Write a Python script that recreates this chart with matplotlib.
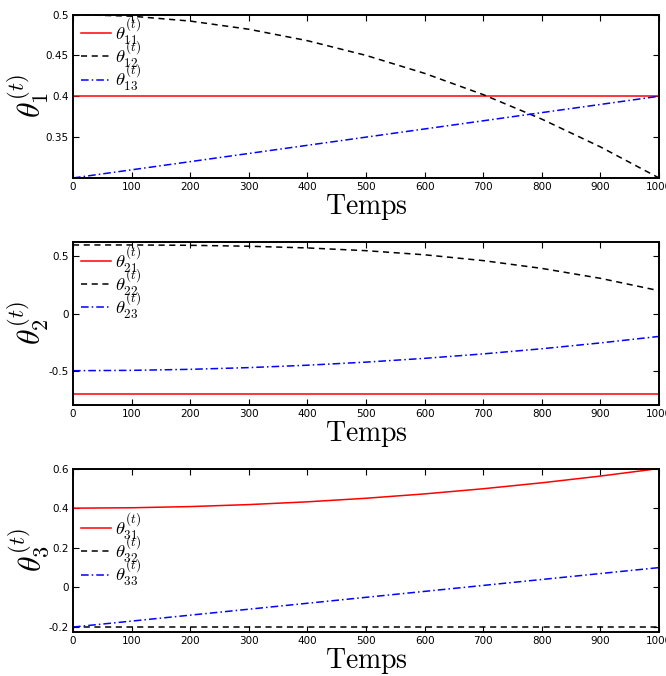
import matplotlib
matplotlib.use("Agg")
import matplotlib.pyplot as plt

plt.rcParams['mathtext.fontset'] = 'cm'

t = [0, 100, 200, 300, 400, 500, 600, 700, 800, 900, 1000]

# panel 1
th11 = [0.4] * 11
th12 = [0.5, 0.498, 0.492, 0.482, 0.468, 0.45, 0.428, 0.402, 0.372, 0.338, 0.3]
th13 = [0.3, 0.31, 0.32, 0.33, 0.34, 0.35, 0.36, 0.37, 0.38, 0.39, 0.4]

# panel 2
th21 = [-0.7] * 11
th22 = [0.6, 0.6, 0.597, 0.589, 0.574, 0.55, 0.514, 0.463, 0.395, 0.308, 0.2]
th23 = [-0.5, -0.497, -0.488, -0.473, -0.452, -0.425, -0.392, -0.353, -0.308, -0.257, -0.2]

# panel 3
th31 = [0.4, 0.402, 0.408, 0.418, 0.432, 0.45, 0.472, 0.498, 0.528, 0.562, 0.6]
th32 = [-0.2] * 11
th33 = [-0.2, -0.17, -0.14, -0.11, -0.08, -0.05, -0.02, 0.01, 0.04, 0.07, 0.1]

panels = [
    (1, [th11, th12, th13], (0.3, 0.5), [0.35, 0.4, 0.45, 0.5], ['0.35', '0.4', '0.45', '0.5'], 0.7367, 1.065),
    (2, [th21, th22, th23], (-0.8, 0.63), [-0.5, 0, 0.5], ['-0.5', '0', '0.5'], 0.4009, 1.06),
    (3, [th31, th32, th33], (-0.225, 0.6), [-0.2, 0, 0.2, 0.4, 0.6], ['-0.2', '0', '0.2', '0.4', '0.6'], 0.0651, 0.814),
]
styles = [('red', '-', None), ('black', '--', (0, (4, 3))), ('blue', '-.', (0, (5, 2, 1, 2)))]
tickfont = ['Liberation Sans Narrow', 'DejaVu Sans']

fig = plt.figure(figsize=(6.66, 6.76), dpi=100)
for i, series, ylim, yt, ytl, bottom, legy in panels:
    ax = fig.add_axes([0.1096, bottom, 0.880, 0.2418])
    for j, (vals, (c, ls, dash)) in enumerate(zip(series, styles)):
        line, = ax.plot(t, vals, color=c, lw=1.1,
                        label=r'$\theta_{%d%d}^{(t)}$' % (i, j + 1))
        if dash is not None:
            line.set_linestyle(dash)
    ax.set_xlim(0, 1000)
    ax.set_ylim(*ylim)
    ax.set_xticks(t)
    ax.set_xticklabels([str(v) for v in t], family=tickfont, fontsize=7.5)
    ax.set_yticks(yt)
    ax.set_yticklabels(ytl, family=tickfont, fontsize=7.5)
    ax.tick_params(direction='in', top=True, right=True, length=4, width=0.8, pad=3)
    for s in ax.spines.values():
        s.set_linewidth(1.4)
    ax.set_xlabel(r'$\mathrm{Temps}$', fontsize=20, labelpad=0)
    ax.set_ylabel(r'$\theta_{%d}^{(t)}$' % i, fontsize=23)
    ax.yaxis.set_label_coords(-0.035, 0.5)
    ax.legend(loc='upper left', bbox_to_anchor=(-0.005, legy), frameon=False,
              fontsize=13.5, handlelength=1.6, handletextpad=0.2,
              labelspacing=-0.45, borderaxespad=0.2)

fig.savefig('out.png', dpi=100)
